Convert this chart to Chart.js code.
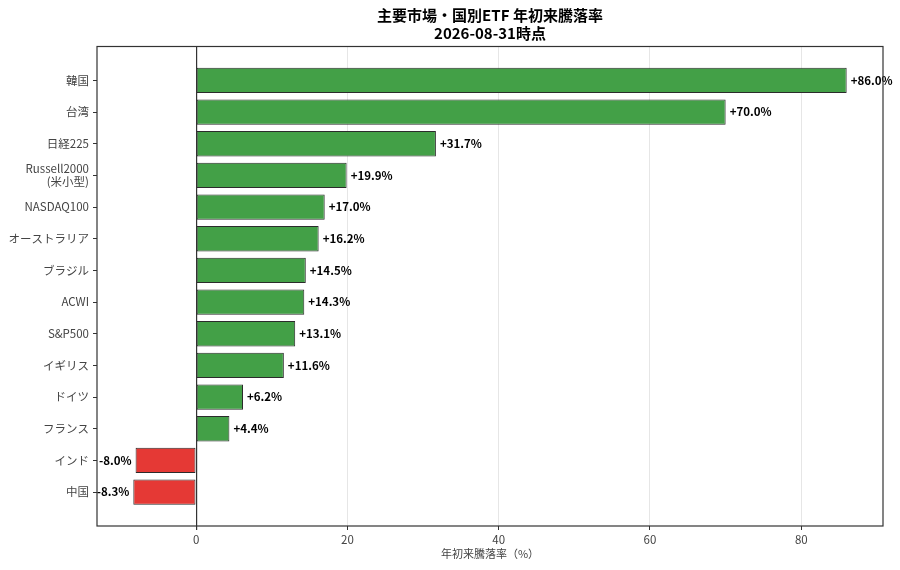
<!DOCTYPE html>
<html lang="ja">
<head>
  <meta charset="UTF-8"/>
  <title>主要市場・国別ETF 年初来騰落率</title>
  <script src="https://cdn.jsdelivr.net/npm/chart.js"></script>
  <style>
    html, body { margin: 0; padding: 0; background: #fff; }
    #wrap { width: 900px; height: 570px; }
  </style>
</head>
<body>
  <div id="wrap"><canvas id="chart"></canvas></div>

  <script>
    const markets = ['韓国', '台湾', '日経225', 'Russell2000\n(米小型)', 'NASDAQ100', 'オーストラリア',
                     'ブラジル', 'ACWI', 'S&P500', 'イギリス', 'ドイツ', 'フランス', 'インド', '中国'];
    const returns = [86.0, 70.0, 31.7, 19.9, 17.0, 16.2, 14.5, 14.3, 13.1, 11.6, 6.2, 4.4, -8.0, -8.3];
    const xTicks = [0, 20, 40, 60, 80];

    const FONT = '"Noto Sans CJK JP", "Noto Sans", sans-serif';
    const GREEN = '#43a047';
    const RED = '#e53935';

    // 数値ラベル + 枠線
    const valueLabels = {
      id: 'valueLabels',
      afterDatasetsDraw(chart) {
        const ctx = chart.ctx;
        const meta = chart.getDatasetMeta(0);
        ctx.save();
        ctx.font = 'bold 11.5px ' + FONT;
        ctx.fillStyle = '#000';
        ctx.textBaseline = 'middle';
        meta.data.forEach((bar, i) => {
          const v = returns[i];
          const txt = (v >= 0 ? '+' : '') + v.toFixed(1) + '%';
          if (v >= 0) {
            ctx.textAlign = 'left';
            ctx.fillText(txt, bar.x + 4, bar.y);
          } else {
            ctx.textAlign = 'right';
            ctx.fillText(txt, bar.x - 4, bar.y);
          }
        });
        ctx.restore();
      },
      afterDraw(chart) {
        const a = chart.chartArea;
        const ctx = chart.ctx;
        ctx.save();
        ctx.strokeStyle = '#333';
        ctx.lineWidth = 1.2;
        ctx.strokeRect(a.left, a.top, a.right - a.left, a.bottom - a.top);
        ctx.restore();
      }
    };

    new Chart(document.getElementById('chart'), {
      type: 'bar',
      data: {
        datasets: [{
          data: returns.map((v, i) => ({ x: v, y: i })),
          backgroundColor: returns.map(v => v >= 0 ? GREEN : RED),
          borderColor: '#2b2b2b',
          borderWidth: 1,
          borderSkipped: false,
          categoryPercentage: 1,
          barPercentage: 0.8
        }]
      },
      options: {
        indexAxis: 'y',
        responsive: true,
        maintainAspectRatio: false,
        animation: false,
        layout: { padding: { left: 0, right: 17, top: 0, bottom: 0 } },
        plugins: {
          legend: { display: false },
          tooltip: { enabled: false },
          title: {
            display: true,
            fullSize: false,
            text: ['主要市場・国別ETF 年初来騰落率', '2026-08-31時点'],
            color: '#000',
            font: { family: FONT, size: 15, weight: 'bold', lineHeight: 1.15 },
            padding: { top: 7, bottom: 5 }
          }
        },
        scales: {
          x: {
            type: 'linear',
            min: -13.1,
            max: 90.8,
            afterBuildTicks: s => { s.ticks = xTicks.map(v => ({ value: v })); },
            afterFit: s => { s.height = 44; },
            border: { display: false },
            grid: {
              color: c => c.tick && c.tick.value === 0 ? '#333' : '#e6e6e6',
              lineWidth: c => c.tick && c.tick.value === 0 ? 1.2 : 1,
              tickColor: '#333',
              tickLength: 4
            },
            ticks: { color: '#444', font: { family: FONT, size: 11.5 }, padding: 3 },
            title: {
              display: true,
              text: '年初来騰落率（%）',
              color: '#444',
              font: { family: FONT, size: 11 },
              padding: { top: 0, bottom: 10 }
            }
          },
          y: {
            type: 'linear',
            reverse: true,
            offset: false,
            min: -1.07,
            max: 14.07,
            afterBuildTicks: s => { s.ticks = markets.map((_, i) => ({ value: i })); },
            afterFit: s => { s.width = 97; },
            border: { display: false },
            grid: { offset: false, drawOnChartArea: false, tickColor: '#333', tickLength: 4 },
            ticks: {
              color: '#444',
              font: { family: FONT, size: 11.5, lineHeight: 1.1 },
              padding: 4,
              callback: v => (markets[v] || '').split('\n')
            }
          }
        }
      },
      plugins: [valueLabels]
    });
  </script>
</body>
</html>
